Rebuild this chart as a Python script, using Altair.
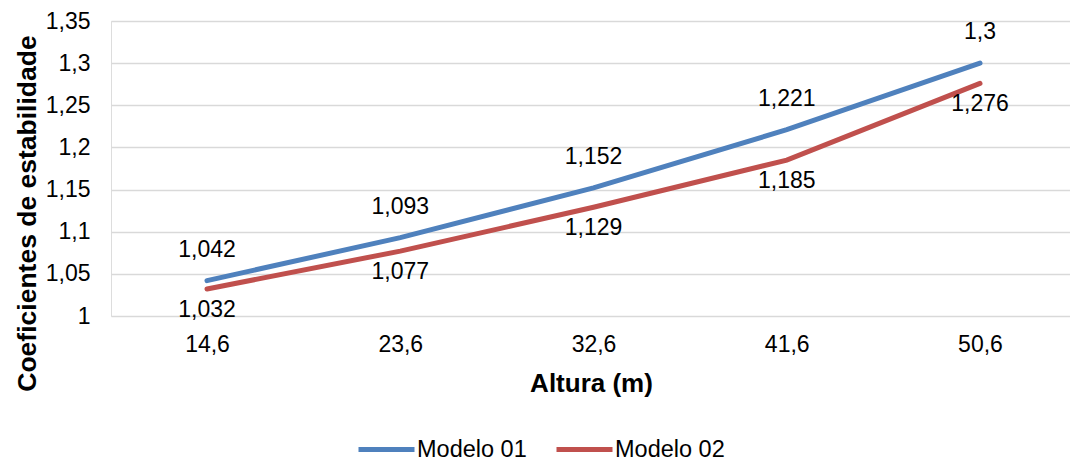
import altair as alt
import pandas as pd

# Heights (m) as category labels, and the stability coefficients per model
alturas = ["14,6", "23,6", "32,6", "41,6", "50,6"]
modelo_01 = [1.042, 1.093, 1.152, 1.221, 1.300]
modelo_02 = [1.032, 1.077, 1.129, 1.185, 1.276]
series = ["Modelo 01", "Modelo 02"]
y_ticks = [1.0, 1.05, 1.1, 1.15, 1.2, 1.25, 1.3, 1.35]

rows = []
for nome, valores in zip(series, [modelo_01, modelo_02]):
    for a, v in zip(alturas, valores):
        rows.append({"altura": a, "valor": v, "modelo": nome})
df = pd.DataFrame(rows)

FONT = "Liberation Sans"
LEFT, TOP = 111, 21
W, H = 965, 295
TOTAL_W, TOTAL_H = 1070, 461

# plot area runs slightly past the right edge of the canvas
x_scale = alt.Scale(type="point", padding=0.4968)

x_enc = alt.X(
    "altura:N",
    sort=alturas,
    scale=x_scale,
    axis=alt.Axis(
        title="Altura (m)",
        titleFont=FONT,
        titleFontSize=26,
        titleFontWeight="bold",
        titleColor="#000000",
        titleBaseline="alphabetic",
        titleX=480,
        titleY=75,
        labelFont=FONT,
        labelFontSize=23,
        labelColor="#000000",
        labelPadding=17,
        labelAngle=0,
        ticks=False,
        domain=False,
        grid=False,
    ),
)

y_enc = alt.Y(
    "valor:Q",
    scale=alt.Scale(domain=[1.0, 1.35], nice=False, zero=False),
    axis=alt.Axis(
        values=y_ticks,
        labelExpr="replace(format(datum.value, '.2~f'), '.', ',')",
        title="Coeficientes de estabilidade",
        titleFont=FONT,
        titleFontSize=26.5,
        titleFontWeight="bold",
        titleColor="#000000",
        titleAngle=-90,
        titleX=-76,
        titleY=192,
        titleAlign="center",
        titleBaseline="alphabetic",
        labelFont=FONT,
        labelFontSize=23,
        labelColor="#000000",
        labelPadding=21,
        ticks=False,
        domain=False,
        grid=True,
        gridColor="#d9d9d9",
        gridWidth=1.5,
    ),
)

color = alt.Color(
    "modelo:N",
    scale=alt.Scale(domain=series, range=["#4f81bd", "#c0504d"]),
    legend=alt.Legend(
        title=None,
        orient="none",
        direction="horizontal",
        legendX=245,
        legendY=398,
        symbolType="stroke",
        symbolSize=3136,
        symbolStrokeWidth=5,
        labelFont=FONT,
        labelFontSize=23.5,
        labelColor="#000000",
        labelOffset=0,
        columnPadding=19,
        padding=0,
    ),
)

base = alt.Chart(df)

lines = base.mark_line(strokeWidth=5, strokeCap="round").encode(
    x=x_enc, y=y_enc, color=color
)

text_props = dict(font=FONT, fontSize=23, color="#000000", baseline="middle", align="center")
rotulo_expr = "replace(format(datum.valor, '.3~f'), '.', ',')"

labels_top = base.transform_filter(
    alt.datum.modelo == "Modelo 01"
).transform_calculate(rotulo=rotulo_expr).mark_text(dy=-31, **text_props).encode(
    x=alt.X("altura:N", sort=alturas, scale=x_scale), y="valor:Q", text="rotulo:N"
)

labels_bottom = base.transform_filter(
    alt.datum.modelo == "Modelo 02"
).transform_calculate(rotulo=rotulo_expr).mark_text(dy=21, **text_props).encode(
    x=alt.X("altura:N", sort=alturas, scale=x_scale), y="valor:Q", text="rotulo:N"
)

chart = (
    alt.layer(lines, labels_top, labels_bottom)
    .properties(
        width=W,
        height=H,
        autosize=alt.AutoSizeParams(type="none"),
        padding={
            "left": LEFT,
            "top": TOP,
            "right": TOTAL_W - LEFT - W,
            "bottom": TOTAL_H - TOP - H,
        },
    )
    .configure_view(stroke=None)
    .configure(background="#ffffff")
)

chart.save("out.html", embed_options={"renderer": "svg", "actions": False})
